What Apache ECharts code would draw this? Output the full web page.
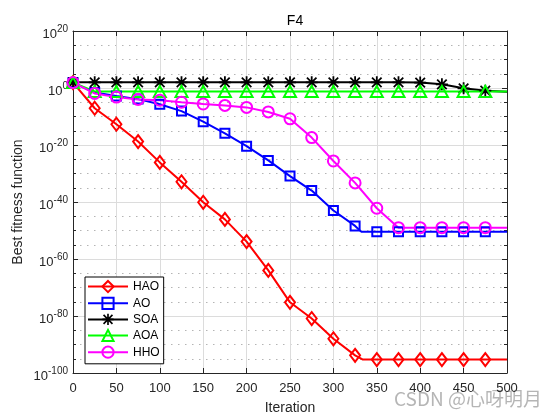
<!DOCTYPE html>
<html>
<head>
<meta charset="utf-8">
<script src="https://cdn.jsdelivr.net/npm/echarts@6/dist/echarts.min.js"></script>
<style>html,body{margin:0;padding:0;background:#fff;}#c{width:560px;height:420px;}</style>
</head>
<body>
<div id="c"></div>
<script>
// Iterations and best fitness (as log10 of the value)
const haoIter = [0,25,50,75,100,125,150,175,200,225,250,275,300,325,334,350,375,400,425,450,475,500];
const haoLog10 = [1.9,-7.1,-12.7,-18.8,-26.1,-32.9,-40.1,-46.1,-53.9,-64.0,-75.2,-80.9,-88.0,-93.8,-95.3,-95.3,-95.3,-95.3,-95.3,-95.3,-95.3,-95.3];

const aoIter = [0,25,50,75,100,125,150,175,200,225,250,275,300,325,332,350,375,400,425,450,475,500];
const aoLog10 = [1.9,-1.6,-2.8,-3.9,-5.7,-8.1,-11.8,-15.9,-20.4,-25.4,-30.9,-36.0,-43.0,-48.4,-50.4,-50.4,-50.4,-50.4,-50.4,-50.4,-50.4,-50.4];

const soaIter = [0,25,50,75,100,125,150,175,200,225,250,275,300,325,350,375,400,425,450,475,500];
const soaLog10 = [2.0,2.0,2.0,2.0,2.0,2.0,2.0,2.0,2.0,2.0,2.0,2.0,2.0,2.0,2.0,2.0,1.9,1.3,-0.1,-0.95,-1.3];

const aoaIter = [0,25,50,75,100,125,150,175,200,225,250,275,300,325,350,375,400,425,450,475,500];
const aoaLog10 = [1.9,-1.2,-1.2,-1.2,-1.2,-1.2,-1.2,-1.2,-1.2,-1.2,-1.2,-1.2,-1.2,-1.2,-1.2,-1.2,-1.2,-1.2,-1.2,-1.2,-1.2];

const hhoIter = [0,25,50,75,100,125,150,175,200,225,250,275,300,325,350,375,400,425,450,475,500];
const hhoLog10 = [1.9,-1.9,-3.2,-4.0,-4.3,-5.0,-5.6,-6.1,-6.8,-8.4,-10.8,-17.4,-25.6,-33.3,-42.2,-49.0,-49.0,-49.0,-49.0,-49.0,-49.0];

const seriesNames = ['HAO','AO','SOA','AOA','HHO'];
const seriesColors = ['#ff0000','#0000ff','#000000','#00ff00','#ff00ff'];
const xTickLabels = ['0','50','100','150','200','250','300','350','400','450','500'];
const yTickExponents = [-100,-80,-60,-40,-20,0,20];

const FONT = '"Liberation Sans", Arial, Helvetica, sans-serif';
const STAR = 'path://M8.5,0L11.5,0L11.5,20L8.5,20Z M0,8.5L20,8.5L20,11.5L0,11.5Z M1,3.1L3.1,1L19,16.9L16.9,19Z M16.9,1L19,3.1L3.1,19L1,16.9Z';

function buildData(iters, logs) {
  return iters.map((it, i) => {
    const item = { value: [it, logs[i]] };
    if (it % 25 !== 0 || it >= 500) item.symbol = 'none';
    return item;
  });
}

const symbols = ['diamond','rect','STAR','triangle','circle'];
const symbolSizes = [[10,13],[9,9],[12,12],[12,11],[11,11]];
const allIters = [haoIter, aoIter, soaIter, aoaIter, hhoIter];
const allLogs = [haoLog10, aoLog10, soaLog10, aoaLog10, hhoLog10];

const series = seriesNames.map((name, k) => {
  const isStar = symbols[k] === 'STAR';
  return {
    name: name,
    type: 'line',
    xAxisIndex: 0,
    yAxisIndex: 0,
    data: buildData(allIters[k], allLogs[k]),
    showAllSymbol: true,
    symbol: isStar ? STAR : symbols[k],
    symbolSize: symbolSizes[k],
    lineStyle: { color: seriesColors[k], width: 2 },
    itemStyle: isStar
      ? { color: seriesColors[k] }
      : { color: 'rgba(255,255,255,0)', borderColor: seriesColors[k], borderWidth: 2 },
    emphasis: { disabled: true },
    animation: false
  };
});

function expLabel(v) {
  const e = Math.round(v);
  if (yTickExponents.indexOf(e) < 0) return '';
  return '{b|10}{s|' + e + '}';
}

const chart = echarts.init(document.getElementById('c'), null, { renderer: 'canvas' });
chart.setOption({
  backgroundColor: '#ffffff',
  animation: false,
  title: {
    text: 'F4',
    left: 290,
    top: 9,
    textAlign: 'center',
    textStyle: { fontFamily: FONT, fontSize: 14, fontWeight: 'normal', color: '#000' }
  },
  grid: { left: 73, right: 53, top: 31, bottom: 47, containLabel: false },
  legend: {
    orient: 'vertical',
    left: 85,
    top: 277,
    data: seriesNames,
    itemWidth: 40,
    itemHeight: 14,
    itemGap: 3.5,
    padding: [3, 4, 5, 2],
    backgroundColor: '#ffffff',
    borderColor: '#000000',
    borderWidth: 1,
    borderRadius: 0,
    textStyle: { fontFamily: FONT, fontSize: 12, color: '#000' }
  },
  xAxis: [
    {
      type: 'value', min: 0, max: 500, interval: 50, position: 'bottom',
      name: 'Iteration', nameLocation: 'middle', nameGap: 28, nameMoveOverlap: false,
      nameTextStyle: { fontFamily: FONT, fontSize: 14, color: '#262626' },
      axisLine: { show: true, onZero: false, lineStyle: { color: '#262626', width: 1 } },
      axisTick: { show: true, inside: true, length: 5, lineStyle: { color: '#262626' } },
      axisLabel: { fontFamily: FONT, fontSize: 13, color: '#262626', margin: 9,
        formatter: (v, i) => xTickLabels[i] },
      splitLine: { show: true, lineStyle: { color: '#dcdcdc', width: 1 } }
    },
    {
      type: 'value', min: 0, max: 500, interval: 50, position: 'top',
      axisLine: { show: true, onZero: false, lineStyle: { color: '#262626', width: 1 } },
      axisTick: { show: true, inside: true, length: 5, lineStyle: { color: '#262626' } },
      axisLabel: { show: false },
      splitLine: { show: false }
    }
  ],
  yAxis: [
    {
      type: 'value', min: -100, max: 20, interval: 20, position: 'left',
      name: 'Best fitness function', nameLocation: 'middle', nameGap: 48, nameMoveOverlap: false,
      nameTextStyle: { fontFamily: FONT, fontSize: 14, color: '#262626' },
      axisLine: { show: true, onZero: false, lineStyle: { color: '#262626', width: 1 } },
      axisTick: { show: true, inside: true, length: 5, lineStyle: { color: '#262626' } },
      minorTick: { show: true, splitNumber: 4, length: 3, lineStyle: { color: '#262626' } },
      axisLabel: {
        fontFamily: FONT, margin: 5, formatter: expLabel,
        rich: {
          b: { fontFamily: FONT, fontSize: 13, color: '#262626', verticalAlign: 'bottom', lineHeight: 20, padding: [6,0,0,0] },
          s: { fontFamily: FONT, fontSize: 10, color: '#262626', verticalAlign: 'top', lineHeight: 20, padding: [3,0,0,0] }
        }
      },
      splitLine: { show: true, lineStyle: { color: '#dcdcdc', width: 1 } },
      minorSplitLine: { show: true, lineStyle: { color: '#b4b4b4', width: 1, type: [1.5, 5.5] } }
    },
    {
      type: 'value', min: -100, max: 20, interval: 20, position: 'right',
      axisLine: { show: true, onZero: false, lineStyle: { color: '#262626', width: 1 } },
      axisTick: { show: true, inside: true, length: 5, lineStyle: { color: '#262626' } },
      minorTick: { show: true, splitNumber: 4, length: 3, lineStyle: { color: '#262626' } },
      axisLabel: { show: false },
      splitLine: { show: false }
    }
  ],
  graphic: [
    {
      type: 'text', left: 394, top: 389, silent: true,
      style: { text: 'CSDN @心呀明月', font: '19px "Noto Sans CJK SC", sans-serif', fill: 'rgba(150,150,150,0.7)' }
    }
  ],
  series: series
});
</script>
</body>
</html>
